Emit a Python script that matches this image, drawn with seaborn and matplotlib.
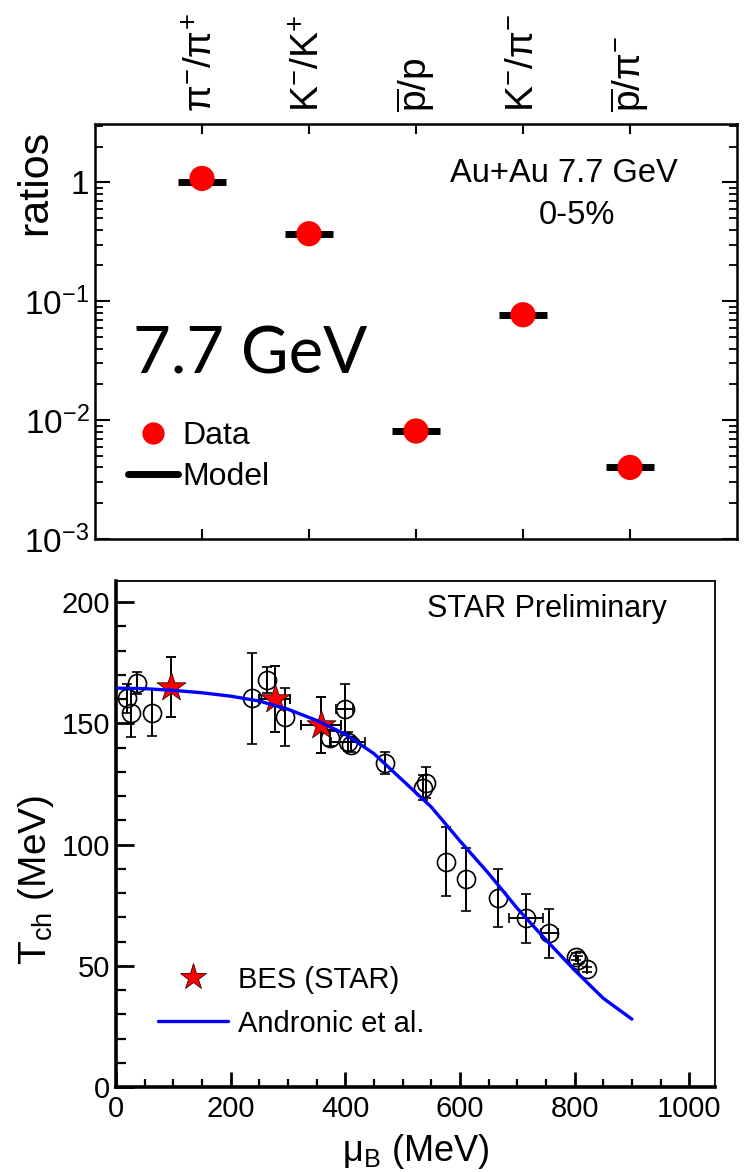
import matplotlib
matplotlib.use('Agg')
import matplotlib.pyplot as plt
import seaborn as sns
import numpy as np
import pandas as pd
from matplotlib.lines import Line2D
from matplotlib.ticker import FixedLocator, FixedFormatter, MultipleLocator, LogLocator, NullFormatter

# ---------------- data: top panel (particle ratios) ----------------
ratio_names = [r'$\pi^{-}/\pi^{+}$', r'$K^{-}/K^{+}$', r'$\overline{p}/p$',
               r'$K^{-}/\pi^{-}$', r'$\overline{p}/\pi^{-}$']
ratio_data = [1.08, 0.37, 0.0081, 0.077, 0.0040]
ratio_model = [1.00, 0.37, 0.0081, 0.076, 0.0040]
log_tick_values = [1e-3, 1e-2, 1e-1, 1]
log_tick_labels = [r'$10^{-3}$', r'$10^{-2}$', r'$10^{-1}$', '1']

# ---------------- data: bottom panel (freeze-out curve) ----------------
mu_star = [96, 277, 358]
T_star = [165, 160, 149.3]
T_star_err = [12.5, 13.5, 11.7]
mu_star_err = [0, 27, 35]

mu_other = [18.6, 25.6, 36, 62, 236.6, 262.6, 294.4, 372.8, 399, 404.7, 410,
            468.6, 535, 540, 576, 609.8, 666, 715.3, 756, 802.6, 805.4, 821]
T_other = [160.3, 154.4, 166.5, 154.4, 160.3, 167.8, 152.7, 143.8, 155.8, 142.4, 141,
           133.8, 123.5, 125.5, 93, 85.6, 77.8, 69.6, 63.4, 53.8, 52.4, 48.6]
T_other_err = [6, 10, 4.5, 9.8, 18.8, 5.5, 12, 3, 10.5, 4, 3,
               4.5, 5, 6.5, 14.2, 12.9, 12, 10.2, 10.2, 1.5, 1.5, 1]
mu_other_err = [0, 0, 0, 0, 0, 0, 0, 0, 15, 30, 0,
                0, 0, 0, 0, 0, 0, 29.5, 15, 0, 0, 0]

mu_curve = [0, 50, 100, 150, 200, 250, 300, 350, 400, 450, 500, 550, 600, 650, 700, 750, 800, 850, 900]
T_curve = [164.5, 164.3, 163.6, 162.6, 161.2, 159.2, 155.8, 151.2, 145.5, 137.5, 126.5,
           115.5, 101.5, 88.1, 73.7, 60.7, 48.2, 36.6, 28]

# ---------------- style ----------------
sns.set_theme(style='ticks')
plt.rcParams['font.family'] = ['Liberation Sans', 'DejaVu Sans']
plt.rcParams['mathtext.fontset'] = 'custom'
plt.rcParams['mathtext.rm'] = 'Liberation Sans'
plt.rcParams['mathtext.it'] = 'Liberation Sans:italic'
plt.rcParams['mathtext.bf'] = 'Liberation Sans:bold'
plt.rcParams['mathtext.sf'] = 'Liberation Sans'
plt.rcParams['mathtext.default'] = 'rm'
for key in ['text.color', 'axes.labelcolor', 'xtick.color', 'ytick.color', 'axes.edgecolor']:
    plt.rcParams[key] = 'black'

W, H = 746, 1172
fig = plt.figure(figsize=(W / 100, H / 100), dpi=100)
fig.patch.set_facecolor('white')

# ================= TOP PANEL =================
ax1 = fig.add_axes([95 / W, 1 - 539 / H, 642 / W, 415 / H])
positions = np.arange(1, len(ratio_names) + 1)
df_top = pd.DataFrame({'pos': positions, 'data': ratio_data, 'model': ratio_model})

ax1.errorbar(df_top['pos'], df_top['model'], xerr=0.22, fmt='none',
             ecolor='black', elinewidth=5, capsize=0, zorder=2)
sns.scatterplot(data=df_top, x='pos', y='data', color='red', s=330,
                edgecolor='none', ax=ax1, zorder=3, legend=False)

ax1.set_yscale('log')
ax1.set_ylim(1e-3, 3.1)
ax1.set_xlim(0, 6)
ax1.set_xticks(positions)
ax1.set_xticklabels(ratio_names, rotation=90, fontsize=28)
ax1.xaxis.set_ticks_position('both')
ax1.tick_params(axis='x', which='major', direction='in', length=7, width=1.5,
                labeltop=True, labelbottom=False, pad=9)
ax1.yaxis.set_major_locator(FixedLocator(log_tick_values))
ax1.yaxis.set_major_formatter(FixedFormatter(log_tick_labels))
ax1.yaxis.set_minor_locator(LogLocator(base=10, subs=np.arange(2, 10)))
ax1.yaxis.set_minor_formatter(NullFormatter())
ax1.yaxis.set_ticks_position('both')
ax1.tick_params(axis='y', which='major', direction='in', length=11, width=1.5,
                labelsize=24, pad=4)
ax1.tick_params(axis='y', which='minor', direction='in', length=6, width=1.3)
ax1.set_xlabel('')
ax1.set_ylabel('ratios', fontsize=31)
ax1.yaxis.label.set_va('center')
ax1.yaxis.set_label_coords(-0.093, 0.86)
for s in ax1.spines.values():
    s.set_linewidth(1.8)
    s.set_color('black')

ax1.text(0.731, 0.88, 'Au+Au 7.7 GeV', transform=ax1.transAxes,
         ha='center', va='center', fontsize=23.5)
ax1.text(0.75, 0.78, '0-5%', transform=ax1.transAxes,
         ha='center', va='center', fontsize=23.5)
ax1.text(0.059, 0.40, '7.7 GeV', transform=ax1.transAxes, ha='left',
         va='baseline', fontsize=47, family=['Lato', 'DejaVu Sans'])

h_data = Line2D([], [], marker='o', color='red', ls='none', ms=16, mec='none')
h_model = Line2D([], [], color='black', lw=5)
ax1.legend([h_data, h_model], ['Data', 'Model'], loc='upper left',
           bbox_to_anchor=(0.052, 0.285), frameon=False, fontsize=23,
           handlelength=1.55, handletextpad=0.15, labelspacing=0.35,
           borderaxespad=0, borderpad=0)

# ================= BOTTOM PANEL =================
ax2 = fig.add_axes([116 / W, 1 - 1087 / H, 599 / W, 506 / H])

ax2.errorbar(mu_other, T_other, yerr=T_other_err, xerr=mu_other_err, fmt='o',
             mfc='none', mec='black', ms=13, mew=1.2, ecolor='black',
             elinewidth=1.4, capsize=3.5, capthick=1.4, zorder=2)
ax2.errorbar(mu_star, T_star, yerr=T_star_err, xerr=mu_star_err, fmt='none',
             ecolor='black', elinewidth=1.4, capsize=3.5, capthick=1.4, zorder=3)
sns.scatterplot(x=mu_star, y=T_star, marker='*', color='red', s=480,
                edgecolor='#330000', linewidth=0.6, ax=ax2, zorder=4, legend=False)
sns.lineplot(x=mu_curve, y=T_curve, color='blue', lw=2.4, ax=ax2, zorder=5)

ax2.set_xlim(0, 1045)
ax2.set_ylim(0, 208.7)
ax2.xaxis.set_major_locator(MultipleLocator(200))
ax2.xaxis.set_minor_locator(MultipleLocator(50))
ax2.yaxis.set_major_locator(MultipleLocator(50))
ax2.yaxis.set_minor_locator(MultipleLocator(10))
ax2.tick_params(axis='both', which='both', direction='in', top=False, right=False)
ax2.tick_params(axis='x', which='major', length=11, width=2, labelsize=21, pad=6)
ax2.tick_params(axis='x', which='minor', length=6, width=1.6)
ax2.tick_params(axis='y', which='major', length=13, width=2, labelsize=21, pad=4)
ax2.tick_params(axis='y', which='minor', length=7, width=1.6)
for side in ['left', 'bottom']:
    ax2.spines[side].set_linewidth(2.6)
for side in ['top', 'right']:
    ax2.spines[side].set_linewidth(1.3)
for s in ax2.spines.values():
    s.set_color('black')

ax2.set_xlabel(r'$\mu_{B}$ (MeV)', fontsize=26, labelpad=6)
ax2.set_ylabel(r'$T_{ch}$ (MeV)', fontsize=28)
ax2.yaxis.label.set_va('center')
ax2.yaxis.set_label_coords(-0.134, 0.41)

ax2.text(0.92, 0.945, 'STAR Preliminary', transform=ax2.transAxes,
         ha='right', va='center', fontsize=22)

h_star = Line2D([], [], marker='*', color='red', ls='none', ms=20, mec='#330000', mew=0.6)
h_curve = Line2D([], [], color='blue', lw=2.4)
ax2.legend([h_star, h_curve], ['BES (STAR)', 'Andronic et al.'], loc='upper left',
           bbox_to_anchor=(0.07, 0.24), frameon=False, fontsize=21,
           handlelength=2.4, handletextpad=0.35, labelspacing=0.55,
           borderaxespad=0, borderpad=0)

fig.savefig('out.png', dpi=100, facecolor='white')
